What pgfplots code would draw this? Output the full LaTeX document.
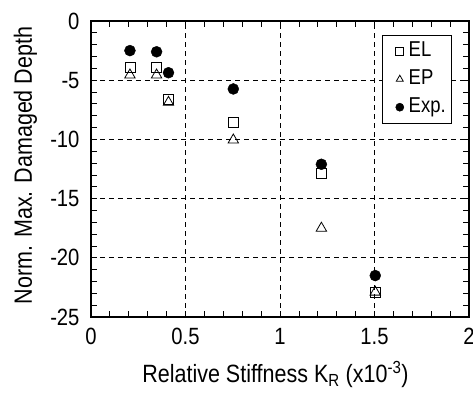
\documentclass[border=0pt]{standalone}
\usepackage{pgfplots}
\pgfplotsset{compat=1.18}
\usepackage{fontspec}
\setmainfont{Liberation Sans}[FakeStretch=0.86]
\begin{document}
\begin{tikzpicture}
\begin{axis}[
  scale only axis,
  width=378bp, height=296bp,
  xmin=0, xmax=2, ymin=-25, ymax=0,
  xtick={0,0.5,1,1.5,2},
  xticklabels={0,0.5,1,1.5,2},
  ytick={-25,-20,-15,-10,-5,0},
  yticklabels={-25,-20,-15,-10,-5,0},
  minor x tick num=4,
  minor y tick num=4,
  tick align=inside,
  major tick length=6bp,
  minor tick length=6bp,
  every tick/.style={black, line width=0.8bp},
  axis line style={line width=2.6bp},
  tick label style={font=\fontsize{23.5bp}{27bp}\selectfont},
  xticklabel style={yshift=-8bp},
  yticklabel style={xshift=-8bp},
  label style={font=\fontsize{25bp}{29bp}\selectfont},
  xlabel style={at={([shift={(-4.5bp,-65.7bp)}]rel axis cs:0.5,0)}, anchor=base},
  ylabel style={at={([shift={(-59bp,3.5bp)}]rel axis cs:0,0.5)}, anchor=base},
  grid=major,
  major grid style={black, dashed, line width=0.8bp, dash pattern=on 5bp off 4bp},
  xlabel={Relative Stiffness K\textsubscript{R} (x10\textsuperscript{-3})},
  ylabel={Norm. Max. Damaged Depth},
  legend style={at={(0.955,0.953)}, anchor=north east, draw=black, line width=0.6bp,
    font=\fontsize{21.5bp}{25bp}\selectfont, row sep=6bp, inner xsep=4bp, inner ysep=5bp,
    nodes={inner sep=2bp, text height=14bp, text depth=4bp}},
  legend cell align=left,
  legend image code/.code={\path (-13bp,0bp) (6.5bp,0bp); \draw[mark repeat=2,mark phase=2,#1] plot coordinates {(-8bp,0bp)(0bp,0bp)(3bp,0bp)};},
  legend image post style={mark size=4bp},
]
\addplot[only marks, mark=square, mark size=5bp, black, line width=0.8bp] coordinates {
(0.206,-3.94) (0.347,-3.94) (0.41,-6.6) (0.753,-8.6) (1.219,-12.86) (1.504,-22.9)};
\addplot[only marks, mark=triangle, mark size=6bp, black, line width=0.8bp] coordinates {
(0.206,-4.56) (0.347,-4.56) (0.41,-6.87) (0.753,-10.05) (1.219,-17.5) (1.504,-22.9)};
\addplot[only marks, mark=*, mark size=5.5bp, black] coordinates {
(0.206,-2.5) (0.347,-2.6) (0.41,-4.37) (0.753,-5.74) (1.219,-12.1) (1.504,-21.5)};
\legend{EL,EP,Exp.}
\end{axis}
\pgfresetboundingbox
\path ([shift={(-91bp,-78bp)}]current axis.south west) rectangle ([shift={(4bp,21bp)}]current axis.north east);
\end{tikzpicture}
\end{document}
